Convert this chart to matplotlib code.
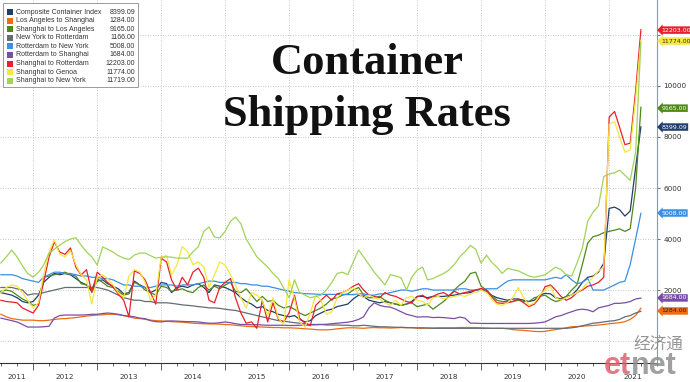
import matplotlib
matplotlib.use('Agg')
import matplotlib.pyplot as plt
import matplotlib.dates as mdates
import matplotlib.transforms as mtransforms
from matplotlib.patches import Rectangle
from matplotlib.text import Annotation
import pandas as pd

# monthly readings, Jul 2011 .. Jul 2021 (USD per 40ft box)
months = pd.date_range('2011-07-01', '2021-07-01', freq='MS')

composite = [1900, 1850, 1800, 1700, 1550, 1500, 1550, 1800, 2300, 2500,
             2650, 2600, 2650, 2600, 2450, 2300, 2200, 1950, 2350, 2400,
             2250, 2150, 2050, 1850, 1900, 2350, 2200, 2100, 1900, 2000,
             2300, 2250, 1900, 2100, 2150, 2100, 2200, 2250, 2100, 1900,
             2200, 2150, 2100, 2000, 1900, 1700, 1550, 1450, 1300, 1350,
             1200, 1150, 1050, 1000, 950, 1000, 850, 750, 800, 1000,
             1100, 1200, 1250, 1350, 1400, 1450, 1650, 1800, 1750, 1600,
             1550, 1500, 1550, 1500, 1450, 1400, 1450, 1550, 1750, 1750,
             1700, 1750, 1750, 1750, 1780, 1800, 1850, 1880, 1900, 2000,
             2000, 1950, 1800, 1700, 1650, 1600, 1650, 1650, 1600, 1550,
             1600, 1800, 1870, 1850, 1700, 1650, 1750, 1800, 2000, 2300,
             2500, 2550, 2700, 3050, 5200, 5250, 5150, 4900, 5100, 6800, 8399.09]

la_shanghai = [1050, 950, 880, 850, 820, 820, 820, 800, 800, 820,
               850, 870, 880, 900, 920, 950, 980, 1000, 1020, 1030,
               1050, 1050, 1030, 1000, 950, 900, 880, 850, 820, 800,
               790, 780, 760, 750, 740, 720, 700, 690, 680, 670,
               670, 660, 650, 640, 620, 600, 580, 570, 560, 550,
               540, 530, 530, 520, 520, 510, 500, 480, 470, 450,
               440, 440, 450, 480, 500, 520, 520, 510, 500, 520,
               530, 520, 520, 510, 520, 530, 520, 530, 500, 500,
               510, 510, 520, 520, 520, 520, 530, 530, 530, 530,
               520, 510, 500, 500, 500, 480, 450, 430, 420, 400,
               380, 370, 380, 420, 450, 480, 520, 560, 570, 580,
               600, 610, 630, 650, 680, 700, 720, 760, 850, 1000, 1284]

shanghai_la = [1950, 2000, 1950, 1800, 1650, 1550, 1400, 1450, 2500, 2550,
               2600, 2650, 2700, 2600, 2550, 2250, 2200, 2050, 2450, 2300,
               2150, 2100, 1950, 1800, 1850, 2300, 2200, 2000, 1900, 1800,
               2150, 2100, 1950, 2000, 2050, 1950, 1900, 2100, 2200, 2000,
               2150, 2050, 2200, 2300, 1950, 1900, 2050, 1800, 1550, 1750,
               1550, 1600, 1400, 1300, 1350, 1250, 1100, 1000, 1100, 1200,
               1300, 1450, 1650, 1700, 1800, 1850, 2000, 2100, 1800, 1700,
               1700, 1750, 1600, 1500, 1450, 1400, 1450, 1500, 1350, 1400,
               1450, 1250, 1400, 1550, 1750, 2000, 2200, 2350, 2650, 2700,
               2150, 2000, 1800, 1600, 1550, 1550, 1550, 1600, 1550, 1550,
               1700, 1750, 1800, 1650, 1550, 1600, 1750, 2000, 2200, 3000,
               3850, 4090, 4150, 4250, 4300, 4350, 4400, 4300, 4400, 6000, 9165]

ny_rotterdam = [2100, 2100, 2100, 2050, 2000, 1800, 1850, 1850, 1900, 1950,
                2000, 2050, 2100, 2100, 2100, 2100, 2100, 2100, 2100, 2050,
                2000, 1900, 1800, 1700, 1650, 1600, 1600, 1550, 1550, 1500,
                1500, 1500, 1480, 1450, 1420, 1400, 1380, 1350, 1330, 1300,
                1300, 1280, 1250, 1220, 1200, 1150, 1100, 1050, 1000, 950,
                900, 850, 800, 780, 750, 720, 700, 680, 650, 650,
                650, 630, 630, 630, 620, 620, 600, 600, 620, 600,
                580, 560, 560, 550, 540, 540, 530, 520, 520, 520,
                510, 500, 500, 500, 500, 500, 500, 500, 500, 500,
                500, 500, 500, 500, 500, 500, 500, 500, 500, 500,
                500, 500, 500, 500, 500, 500, 500, 520, 550, 600,
                650, 700, 720, 750, 780, 800, 850, 950, 1000, 1100, 1166]

rotterdam_ny = [2600, 2600, 2600, 2550, 2450, 2400, 2350, 2300, 2500, 2600,
                2700, 2700, 2650, 2650, 2600, 2550, 2550, 2500, 2500, 2450,
                2450, 2400, 2300, 2200, 2200, 2150, 2150, 2100, 2100, 2150,
                2200, 2200, 2200, 2150, 2200, 2200, 2200, 2250, 2300, 2350,
                2350, 2300, 2300, 2300, 2300, 2250, 2250, 2200, 2200, 2150,
                2150, 2100, 2050, 2000, 1950, 1900, 1880, 1860, 1850, 1840,
                1830, 1830, 1830, 1830, 1830, 1820, 1820, 1850, 1850, 1800,
                1800, 1850, 1850, 1900, 1950, 2000, 2000, 1950, 2000, 2050,
                2050, 2000, 2000, 2000, 2000, 2000, 2050, 2050, 2000, 2000,
                2000, 2050, 2050, 2050, 2200, 2350, 2400, 2400, 2400, 2400,
                2400, 2400, 2400, 2450, 2500, 2450, 2600, 2400, 2250, 2300,
                2450, 2000, 2000, 2000, 2100, 2200, 2300, 2350, 3000, 4000, 5008]

rotterdam_shanghai = [900, 850, 800, 750, 650, 550, 550, 550, 560, 580,
                      900, 1000, 1020, 1020, 1020, 1020, 1030, 1050, 1050, 1080,
                      1100, 1080, 1050, 1000, 980, 950, 900, 880, 800, 760,
                      750, 780, 790, 780, 770, 760, 760, 750, 720, 700,
                      700, 720, 750, 720, 680, 650, 650, 640, 640, 630,
                      620, 620, 620, 620, 610, 610, 620, 620, 630, 640,
                      650, 660, 680, 700, 720, 740, 780, 850, 950, 1300,
                      1500, 1400, 1350, 1330, 1250, 1150, 1050, 1000, 940, 950,
                      950, 920, 930, 920, 900, 880, 940, 900, 700, 700,
                      690, 690, 690, 690, 690, 690, 690, 690, 690, 690,
                      700, 720, 750, 850, 950, 1000, 1080, 1150, 1220, 1250,
                      1220, 1150, 1300, 1350, 1400, 1480, 1480, 1500, 1550, 1650, 1684]

shanghai_rotterdam = [1600, 1550, 1530, 1500, 1300, 1200, 1100, 1400, 2300, 3300,
                      3880, 3490, 3400, 3650, 2900, 2590, 2800, 1900, 2700, 2500,
                      2300, 2120, 1850, 1600, 950, 2750, 2650, 2400, 1900, 1450,
                      3250, 3100, 2400, 2000, 2500, 2200, 2700, 2860, 2500, 1600,
                      1500, 2100, 2300, 2450, 1700, 1100, 700, 750, 500, 1600,
                      750, 1500, 850, 750, 1100, 1800, 900, 700, 600, 1400,
                      1600, 1800, 1600, 1850, 1900, 2000, 2150, 2250, 2000, 1800,
                      1750, 1700, 1900, 1800, 1750, 1650, 1550, 1500, 1740, 1800,
                      1650, 1750, 1850, 1900, 1780, 1950, 1850, 1900, 1950, 2000,
                      2065, 2000, 1750, 1500, 1480, 1500, 1550, 1650, 1500, 1350,
                      1450, 1700, 2130, 2200, 2000, 1750, 1600, 1700, 1900, 2000,
                      2150, 2200, 2300, 2500, 8780, 9000, 8390, 7700, 7760, 9800, 12203]

shanghai_genoa = [1900, 2100, 2200, 2150, 1900, 1600, 1300, 1500, 2600, 3500,
                  3960, 3400, 3300, 3550, 3000, 2600, 2400, 1450, 2500, 2600,
                  2450, 2200, 1900, 1700, 2550, 2800, 2700, 2300, 1600, 1800,
                  3300, 3350, 2600, 2980, 3700, 3500, 3000, 3100, 2900, 2100,
                  2600, 3100, 2980, 2600, 2200, 1700, 1300, 1900, 1800, 1600,
                  1000, 1700, 900, 650, 2400, 1650, 750, 550, 1100, 1800,
                  1600, 1050, 1150, 1700, 1900, 2000, 2100, 1850, 1700, 1800,
                  1700, 1650, 1500, 1400, 1600, 1400, 1700, 1750, 1600, 1550,
                  1400, 1700, 1750, 1650, 1700, 1750, 1800, 1750, 1850, 1900,
                  2000, 1900, 1650, 1450, 1400, 1500, 1700, 2100, 1700, 1400,
                  1500, 1800, 2000, 2150, 1700, 1600, 1700, 1800, 1900, 2050,
                  2300, 2500, 2750, 2900, 8500, 8600, 8000, 7400, 7500, 9500, 11774]

shanghai_ny = [3060, 3300, 3570, 3300, 2950, 2650, 2510, 2700, 2980, 3450,
               3600, 3760, 3900, 4000, 4050, 3760, 3500, 3300, 2980, 3690,
               3600, 3490, 3350, 3250, 3200, 3370, 3450, 3450, 3350, 3250,
               3290, 3300, 3290, 3250, 3250, 3250, 3500, 3700, 4300, 4470,
               4080, 4040, 4300, 4700, 4860, 4600, 4000, 3650, 3300, 3100,
               2900, 2650, 2450, 2080, 1700, 2400, 1900, 1800, 1700, 1750,
               1800, 2000, 2300, 2650, 2700, 2600, 3100, 3570, 3300, 3000,
               2700, 2450, 2200, 2600, 2550, 2480, 2000, 2500, 2780, 2900,
               2400, 2450, 2550, 2650, 2780, 3000, 3300, 3500, 3750, 3600,
               3050, 3370, 3100, 2900, 2650, 2850, 2800, 2750, 2650, 2550,
               2500, 2550, 2600, 2750, 2900, 2800, 2600, 2550, 3050, 3650,
               4700, 5050, 5300, 6450, 6550, 6600, 6700, 6500, 6300, 7400, 11719]

names = ['Composite Container Index', 'Los Angeles to Shanghai', 'Shanghai to Los Angeles',
         'New York to Rotterdam', 'Rotterdam to New York', 'Rotterdam to Shanghai',
         'Shanghai to Rotterdam', 'Shanghai to Genoa', 'Shanghai to New York']
series = [composite, la_shanghai, shanghai_la, ny_rotterdam, rotterdam_ny,
          rotterdam_shanghai, shanghai_rotterdam, shanghai_genoa, shanghai_ny]
colors = ['#1f3f6e', '#ee6c14', '#4e8a1a', '#666c74', '#3b8fe6',
          '#7b4ea5', '#e8202e', '#f5e640', '#a2d35a']

# right-hand value tags: series index, y position of the tag, text colour
tags = [(6, 12190, 'white'), (7, 11760, '#333333'), (2, 9130, 'white'),
        (0, 8390, 'white'), (4, 5020, 'white'), (5, 1690, 'white'), (1, 1180, '#222222')]

W, H = 690, 382
fig = plt.figure(figsize=(W / 100, H / 100), dpi=100)
ax = fig.add_axes([0, 1 - 363 / H, 657 / W, 363 / H])

for vals, c in zip(series, colors):
    ax.plot(months, vals, color=c, lw=0.9, solid_joinstyle='round')

xmin, xmax = pd.Timestamp('2011-06-26'), pd.Timestamp('2021-10-01')
ax.set_xlim(xmin, xmax)
ax.set_ylim(-860, 13370)

ax.xaxis.set_major_locator(mdates.YearLocator())
ax.xaxis.set_minor_locator(mdates.MonthLocator(bymonth=[4, 7, 10]))
ax.tick_params(axis='x', which='major', length=5, width=0.6, color='#444444', labelbottom=False)
ax.tick_params(axis='x', which='minor', length=2.2, width=0.6, color='#444444')

yt = list(range(0, 13000, 2000))
ax.set_yticks(yt)
ax.set_yticklabels(['' if v in (0, 12000) else str(v) for v in yt])
ax.yaxis.tick_right()
ax.tick_params(axis='y', length=2.5, width=0.6, pad=2, labelsize=5.2,
               labelcolor='#333333', color='#555555')

ax.grid(True, which='major', color='#b5b5b5', lw=0.6, ls=(0, (1, 2)))
for s in ['left', 'top']:
    ax.spines[s].set_visible(False)
ax.spines['right'].set_color('#8c99a6')
ax.spines['bottom'].set_color('#333333')
ax.spines['right'].set_linewidth(0.8)
ax.spines['bottom'].set_linewidth(0.8)

# year labels centred on the visible part of each year
trans = mtransforms.blended_transform_factory(ax.transData, ax.transAxes)
lo, hi = mdates.date2num(xmin), mdates.date2num(xmax)
for yr in range(2011, 2022):
    a = max(mdates.date2num(pd.Timestamp(f'{yr}-01-01')), lo)
    b = min(mdates.date2num(pd.Timestamp(f'{yr + 1}-01-01')), hi)
    ax.text((a + b) / 2, -0.038, str(yr), transform=trans, ha='center', va='center',
            fontsize=5.2, color='#333333', clip_on=False)

for idx, ypos, tc in tags:
    val = series[idx][-1]
    ax.annotate(f'{val:.2f}', xy=(1, ypos), xycoords=('axes fraction', 'data'),
                xytext=(3, 0), textcoords='offset points', ha='left', va='center',
                fontsize=4.5, color=tc, annotation_clip=False,
                bbox=dict(boxstyle='larrow,pad=0.2', fc=colors[idx], ec='none'))

# legend box, drawn in pixel positions
def fx(x):
    return x / W

def fy(y):
    return 1 - y / H

fig.patches.append(Rectangle((fx(3), fy(87)), fx(135), 84 / H, transform=fig.transFigure,
                             fc='white', ec='#9a9a9a', lw=0.7, zorder=5))
for i, (n, vals, c) in enumerate(zip(names, series, colors)):
    yc = 12 + 8.6 * i
    fig.patches.append(Rectangle((fx(7), fy(yc + 3)), fx(6), 6 / H, transform=fig.transFigure,
                                 fc=c, ec='none', zorder=6))
    fig.text(fx(16), fy(yc), n, fontsize=5, family='Liberation Sans', color='#333333',
             va='center', ha='left', zorder=7)
    fig.text(fx(135), fy(yc), f'{vals[-1]:.2f}', fontsize=5, family='Liberation Sans',
             color='#333333', va='center', ha='right', zorder=7)

fig.text(fx(367), fy(74), 'Container', fontsize=32, family='Liberation Serif',
         weight='bold', ha='center', va='baseline', color='#111111')
fig.text(fx(367), fy(126), 'Shipping Rates', fontsize=32, family='Liberation Serif',
         weight='bold', ha='center', va='baseline', color='#111111')

# etnet watermark
fig.text(fx(683), fy(344), '经济通', fontsize=12, family=['Noto Sans CJK SC', 'DejaVu Sans'],
         color='#8a8a8a', ha='right', va='center', alpha=0.9, zorder=10)
t1 = fig.text(fx(604), fy(381), 'et', fontsize=22, family='Liberation Sans', weight='bold',
              color='#e0606e', alpha=0.85, ha='left', va='bottom', zorder=10)
fig.add_artist(Annotation('net', xy=(1, 0), xycoords=t1, fontsize=22,
                          family='Liberation Sans', weight='bold', color='#8f8f8f',
                          alpha=0.85, ha='left', va='bottom', zorder=10))

fig.savefig('out.png', dpi=100)
